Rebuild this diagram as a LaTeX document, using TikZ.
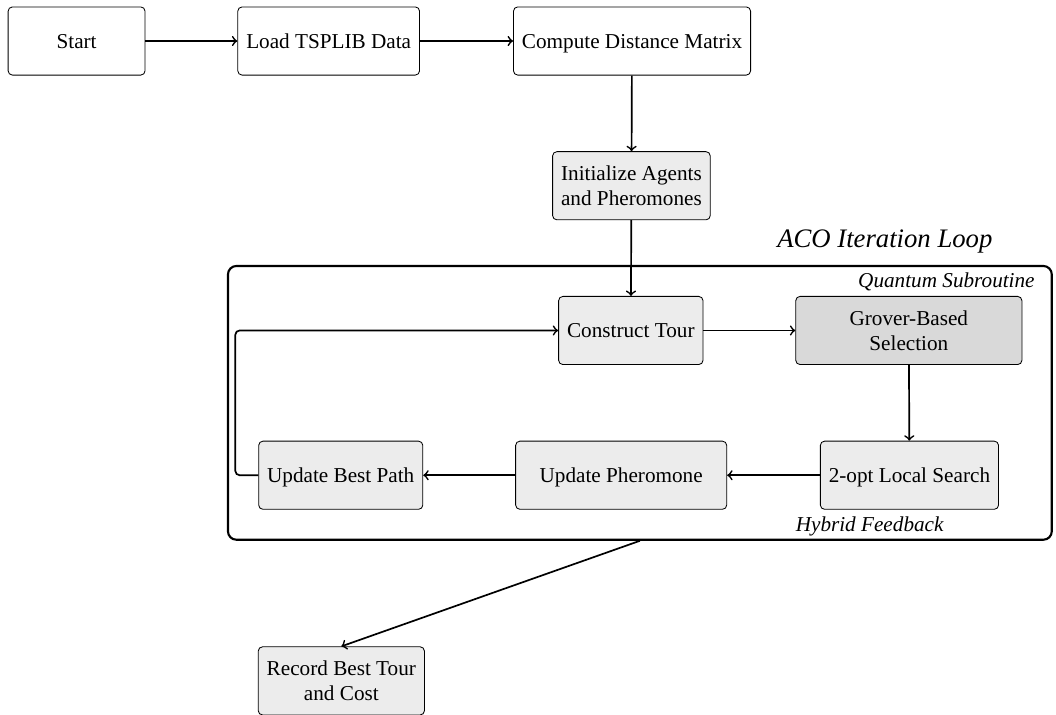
\documentclass[tikz,border=0pt]{standalone}
\usepackage{fontspec}
\setmainfont{Liberation Serif}
\begin{document}
\begin{tikzpicture}[>=to,
  plainbox/.style={draw, rounded corners=2pt, minimum width=2.27cm, minimum height=1.13cm, inner xsep=4pt, align=center,
    text height=6.8pt, text depth=0pt},
  twolines/.style={text height=, text depth=},
  greybox/.style={plainbox, fill=gray!15},
  quantbox/.style={plainbox, fill=gray!30, minimum width=3.75cm},
  flow/.style={->, line width=0.8pt}]
\useasboundingbox (0,0) rectangle (17.51,-11.84);
% iteration frame
\node[draw, line width=1pt, rounded corners=4pt, inner sep=0pt, minimum width=13.66cm, minimum height=4.54cm] (loop) at (10.61,-6.68) {};
\node[anchor=base east, font=\fontsize{12.6}{15}\selectfont\itshape] (looptitle) at (16.58,-4.10) {ACO Iteration Loop};
\node[anchor=base east, font=\itshape] (quantlabel) at (17.28,-4.76) {Quantum Subroutine};
\node[anchor=base, font=\itshape] (hybridlabel) at (14.42,-8.82) {Hybrid Feedback};
% setup
\node[plainbox] (start) at (1.27,-0.68) {Start};
\node[plainbox] (load) at (5.45,-0.68) {Load TSPLIB Data};
\node[plainbox] (dist) at (10.48,-0.68) {Compute Distance Matrix};
\node[greybox, twolines] (init) at (10.47,-3.08) {Initialize Agents\\and Pheromones};
% loop body
\node[greybox] (tour) at (10.46,-5.48) {Construct Tour};
\node[quantbox, twolines] (grover) at (15.07,-5.48) {Grover-Based\\Selection};
\node[greybox] (twoopt) at (15.08,-7.88) {2-opt Local Search};
\node[greybox, minimum width=3.5cm] (pher) at (10.30,-7.88) {Update Pheromone};
\node[greybox] (best) at (5.65,-7.88) {Update Best Path};
\node[greybox, twolines] (record) at (5.66,-11.29) {Record Best Tour\\and Cost};
\draw[flow] (start) -- (load);
\draw[flow] (load) -- (dist);
\draw[flow] (dist) -- (init);
\draw[flow] (init) -- (tour);
\draw[flow] (tour) -- (grover);
\draw[flow] (grover) -- (twoopt);
\draw[flow] (twoopt) -- (pher);
\draw[flow] (pher) -- (best);
\draw[flow, rounded corners=2pt] (best.west) -- ++(-0.38,0) |- (tour.west);
\draw[flow] (loop.south) -- (record.north);
\end{tikzpicture}
\end{document}
